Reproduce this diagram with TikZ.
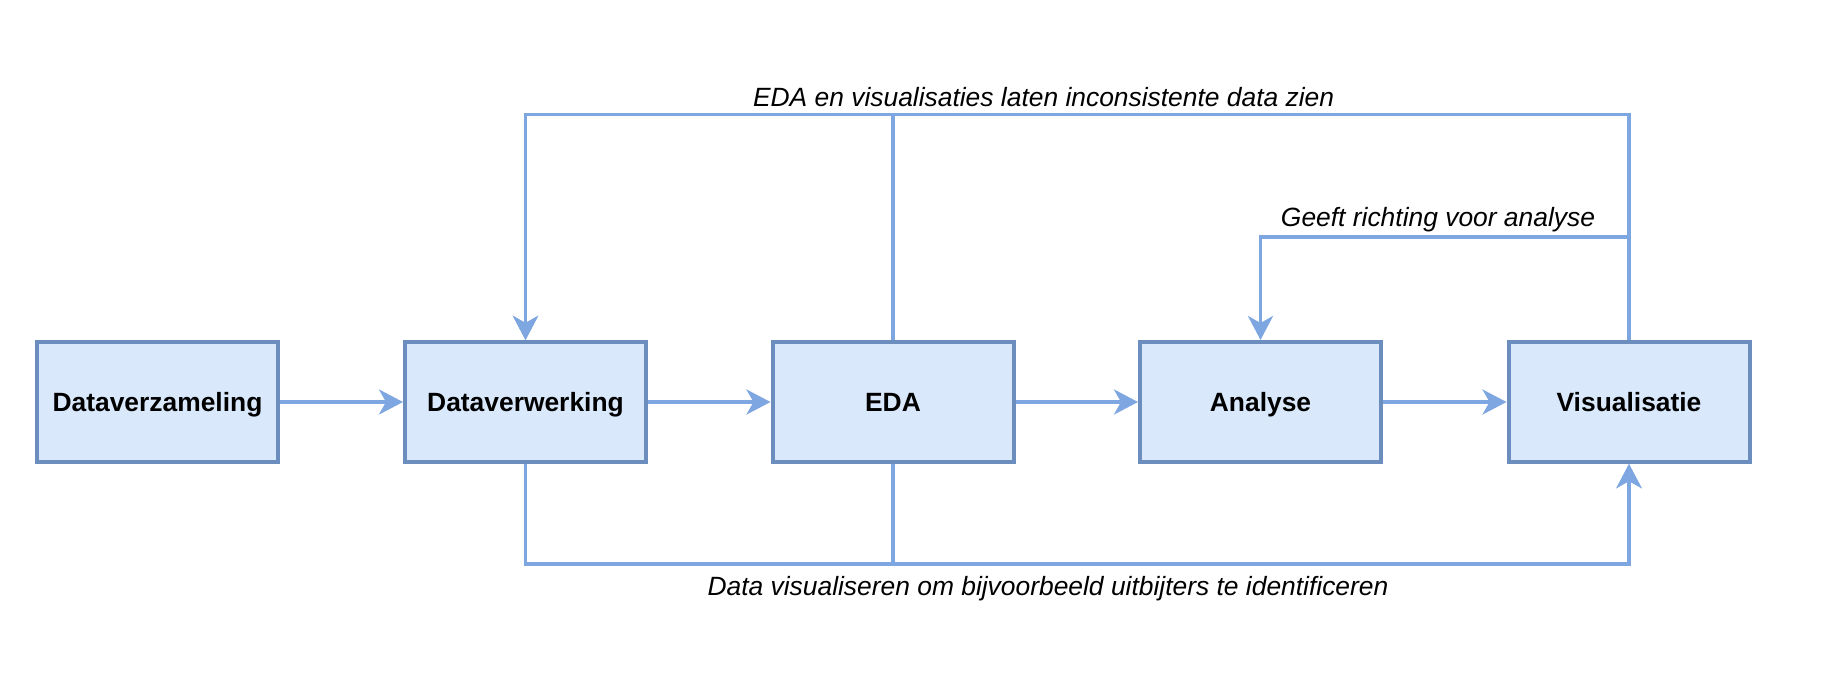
\documentclass[tikz,border=0pt]{standalone}
\usepackage{fontspec}
\setmainfont{Liberation Sans}
\usetikzlibrary{arrows.meta}
\definecolor{boxfill}{HTML}{DAE8FC}
\definecolor{boxline}{HTML}{6C8EBF}
\definecolor{conncol}{HTML}{7EA6E0}
\tikzset{
  stagebox/.style={draw=boxline, fill=boxfill, line width=2pt, minimum width=120.5pt, minimum height=60pt, inner sep=0pt,
    text height=9.4pt, text depth=0pt,
    font=\fontsize{13.2}{16}\selectfont\bfseries},
  conn/.style={draw=conncol, line width=1.9pt, -{Stealth[length=12pt,width=12.5pt,inset=3.5pt]}},
  lbl/.style={font=\fontsize{13.2}{16}\selectfont\itshape, inner sep=0pt}
}
\begin{document}
\begin{tikzpicture}[x=0.5pt,y=-0.5pt]
\useasboundingbox (0,0) rectangle (1832,696);
\node[stagebox] (dz) at (157.5,402) {Dataverzameling};
\node[stagebox] (dv) at (525.5,402) {Dataverwerking};
\node[stagebox] (eda) at (893,402) {EDA};
\node[stagebox] (an) at (1260.5,402) {Analyse};
\node[stagebox] (vis) at (1629,402) {Visualisatie};
\coordinate (topy) at (0,114.5);
\coordinate (midy) at (0,237);
\coordinate (boty) at (0,564);
% straight arrows
\draw[conn] (dz) -- (dv);
\draw[conn] (dv) -- (eda);
\draw[conn] (eda) -- (an);
\draw[conn] (an) -- (vis);
% top feedback
\draw[conn] (eda.north) -- (eda.north |- topy) -| (dv.north);
\draw[conn] (vis.north) -- (vis.north |- topy) -| (dv.north);
\draw[conn] (vis.north) -- (vis.north |- midy) -| (an.north);
% bottom
\draw[conn] (dv.south) -- (dv.south |- boty) -| (vis.south);
\draw[conn] (eda.south) -- (eda.south |- boty) -| (vis.south);
% labels
\node[lbl] (ltop) at (1043.6,97) {EDA en visualisaties laten inconsistente data zien};
\node[lbl] (lmid) at (1438,220) {Geeft richting voor analyse};
\node[lbl] (lbot) at (1048,589) {Data visualiseren om bijvoorbeeld uitbijters te identificeren};
\end{tikzpicture}
\end{document}
